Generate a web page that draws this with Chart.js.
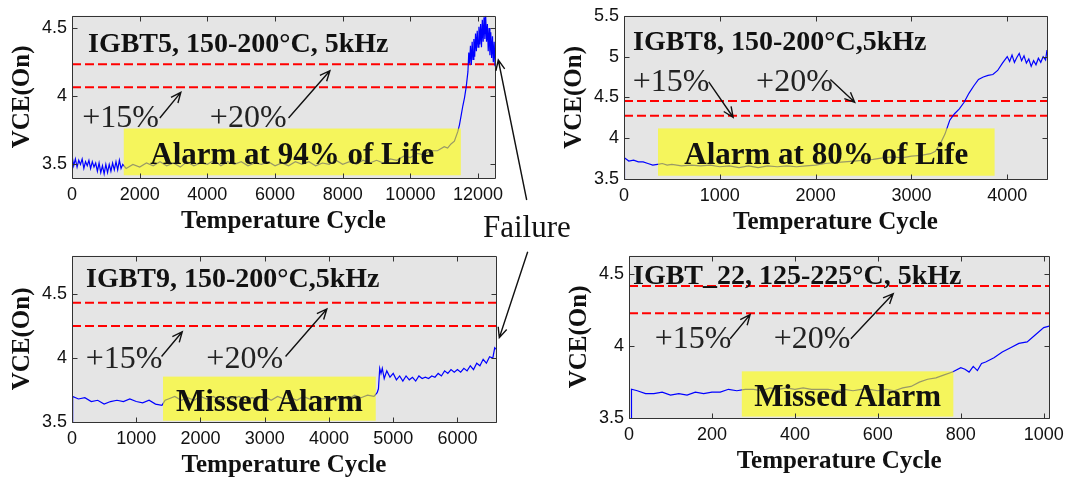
<!DOCTYPE html>
<html>
<head>
<meta charset="utf-8">
<script src="https://cdn.jsdelivr.net/npm/chart.js@4.4.1/dist/chart.umd.min.js"></script>
<style>
  body { margin: 0; background: #fff; width: 1070px; height: 480px; position: relative; overflow: hidden; }
  canvas { position: absolute; }
  #overlay { left: 0; top: 0; pointer-events: none; }
</style>
</head>
<body>
<canvas id="c1" width="535" height="240" style="left:0;top:0"></canvas>
<canvas id="c2" width="535" height="240" style="left:535px;top:0"></canvas>
<canvas id="c3" width="535" height="240" style="left:0;top:240px"></canvas>
<canvas id="c4" width="535" height="240" style="left:535px;top:240px"></canvas>
<canvas id="overlay" width="1070" height="480"></canvas>
<script>
// ---- data ----
const igbt5Cycles = [0, 10, 50, 100, 150, 200, 250, 300, 350, 400, 450, 500, 550, 600, 650, 700, 750, 800, 850, 900, 950, 1000,
  1050, 1100, 1150, 1200, 1250, 1300, 1350, 1400, 1450, 1500,
  1600, 1800, 2000, 2200, 2400, 2600, 2800, 3000, 3200, 3400, 3600, 3800, 4000, 4200, 4400, 4600, 4800, 5000,
  5200, 5400, 5600, 5800, 6000, 6200, 6400, 6600, 6800, 7000, 7200, 7400, 7600, 7800, 8000, 8200, 8400, 8600,
  8800, 9000, 9200, 9400, 9600, 9800, 10000, 10200, 10400, 10600, 10800, 11000,
  11100, 11200, 11300, 11400, 11450, 11500, 11550, 11600, 11650, 11700, 11725, 11750, 11775, 11800, 11825, 11850,
  11875, 11900, 11925, 11950, 11975, 12000, 12025, 12050, 12075, 12100, 12125, 12150, 12175, 12200, 12225, 12250,
  12275, 12300, 12325, 12350, 12375, 12400, 12425, 12450, 12475, 12500];
const igbt5Vce = [3.42, 3.55, 3.49, 3.54, 3.48, 3.53, 3.50, 3.54, 3.47, 3.52, 3.49, 3.53, 3.47, 3.52, 3.48, 3.51, 3.45, 3.51, 3.44, 3.49, 3.43, 3.50,
  3.44, 3.50, 3.45, 3.51, 3.46, 3.52, 3.46, 3.53, 3.47, 3.50,
  3.47, 3.50, 3.48, 3.51, 3.49, 3.52, 3.49, 3.51, 3.48, 3.52, 3.49, 3.51, 3.50, 3.53, 3.49, 3.52, 3.50, 3.52,
  3.49, 3.51, 3.50, 3.52, 3.49, 3.51, 3.49, 3.52, 3.50, 3.52, 3.49, 3.51, 3.50, 3.53, 3.50, 3.52, 3.50, 3.53,
  3.51, 3.53, 3.51, 3.54, 3.53, 3.56, 3.55, 3.58, 3.57, 3.60, 3.60, 3.63,
  3.62, 3.65, 3.67, 3.74, 3.79, 3.86, 3.93, 3.99, 4.07, 4.18, 4.32, 4.24, 4.37, 4.23, 4.40, 4.27,
  4.42, 4.29, 4.46, 4.33, 4.48, 4.36, 4.51, 4.38, 4.53, 4.36, 4.56, 4.40, 4.58, 4.42, 4.59, 4.40,
  4.53, 4.33, 4.50, 4.30, 4.47, 4.28, 4.44, 4.25, 4.40, 4.22, 4.35, 4.24];
const igbt5Limits = [4.065, 4.235];
const igbt5AlarmCycles = [1530, 11490];
const igbt5AlarmVce = [3.42, 3.763];
const igbt5XTicks = [0, 2000, 4000, 6000, 8000, 10000, 12000];
const igbt5YTicks = [3.5, 4, 4.5];

const igbt8Cycles = [0, 5, 50, 100, 150, 200, 250, 300, 350, 400, 450, 500, 600, 700, 800, 900, 1000, 1100, 1200, 1300,
  1400, 1500, 1600, 1700, 1800, 1900, 2000, 2100, 2200, 2300, 2400, 2500, 2600, 2700, 2800, 2900, 3000, 3100, 3200,
  3250, 3300, 3350, 3400, 3450, 3500, 3550, 3600, 3650, 3700, 3750, 3800, 3850, 3900, 3950, 4000, 4025, 4050, 4075,
  4100, 4125, 4150, 4175, 4200, 4225, 4250, 4275, 4300, 4325, 4350, 4375, 4400, 4415];
const igbt8Vce = [3.50, 3.76, 3.72, 3.73, 3.71, 3.71, 3.69, 3.67, 3.68, 3.69, 3.67, 3.68, 3.66, 3.67, 3.66, 3.67, 3.65, 3.66, 3.64, 3.66,
  3.64, 3.66, 3.65, 3.66, 3.65, 3.66, 3.67, 3.69, 3.70, 3.71, 3.72, 3.73, 3.74, 3.76, 3.77, 3.76, 3.78, 3.79, 3.81,
  3.84, 3.93, 4.05, 4.22, 4.30, 4.36, 4.44, 4.55, 4.64, 4.72, 4.75, 4.77, 4.78, 4.83, 4.92, 5.00, 4.94, 5.02, 4.93,
  4.99, 5.04, 4.95, 5.01, 4.92, 4.97, 4.88, 4.95, 4.90, 4.98, 4.93, 5.00, 4.96, 5.08];
const igbt8Limits = [4.275, 4.457];
const igbt8AlarmCycles = [355, 3868];
const igbt8AlarmVce = [3.54, 4.12];
const igbt8XTicks = [0, 1000, 2000, 3000, 4000];
const igbt8YTicks = [3.5, 4, 4.5, 5, 5.5];

const igbt9Cycles = [0, 10, 100, 200, 300, 400, 500, 600, 700, 800, 900, 1000, 1100, 1200, 1300, 1400, 1450,
  1500, 1600, 1700, 1800, 1900, 2000, 2100, 2200, 2300, 2400, 2500, 2600, 2700, 2800, 2900, 3000, 3100, 3200,
  3300, 3400, 3500, 3600, 3700, 3800, 3900, 4000, 4100, 4200, 4300, 4400, 4500, 4600, 4700,
  4750, 4770, 4790, 4810, 4830, 4860, 4900, 4950, 5000, 5050, 5100, 5150, 5200, 5250, 5300, 5350, 5400, 5450,
  5500, 5550, 5600, 5650, 5700, 5750, 5800, 5850, 5900, 5950, 6000, 6050, 6100, 6150, 6200, 6250, 6300, 6350,
  6400, 6450, 6500, 6550, 6580, 6600];
const igbt9Vce = [3.50, 3.70, 3.68, 3.69, 3.66, 3.67, 3.64, 3.66, 3.67, 3.66, 3.68, 3.66, 3.65, 3.67, 3.64, 3.63, 3.67,
  3.68, 3.70, 3.67, 3.69, 3.67, 3.70, 3.68, 3.70, 3.67, 3.69, 3.68, 3.70, 3.67, 3.69, 3.68, 3.70, 3.67, 3.70,
  3.68, 3.69, 3.67, 3.70, 3.68, 3.70, 3.68, 3.69, 3.67, 3.70, 3.68, 3.71, 3.69, 3.71, 3.70,
  3.73, 3.76, 3.92, 3.88, 3.92, 3.84, 3.90, 3.85, 3.88, 3.83, 3.86, 3.82, 3.86, 3.83, 3.85, 3.82, 3.86, 3.84,
  3.85, 3.84, 3.86, 3.85, 3.88, 3.86, 3.90, 3.88, 3.91, 3.89, 3.91, 3.89, 3.92, 3.90, 3.94, 3.91, 3.96, 3.94,
  3.99, 3.96, 4.01, 4.00, 4.08, 4.07];
const igbt9Limits = [4.25, 4.433];
const igbt9AlarmCycles = [1417, 4728];
const igbt9AlarmVce = [3.51, 3.855];
const igbt9XTicks = [0, 1000, 2000, 3000, 4000, 5000, 6000];
const igbt9YTicks = [3.5, 4, 4.5];

const igbt22Cycles = [5, 6, 20, 40, 60, 80, 100, 120, 140, 160, 180, 200, 220, 240, 260, 280, 300, 320, 340, 360,
  380, 400, 420, 440, 460, 480, 500, 520, 540, 560, 580, 600, 620, 640, 660, 680, 700, 720, 740, 760, 780, 800,
  810, 820, 830, 840, 850, 860, 880, 900, 920, 940, 960, 980, 1000, 1013];
const igbt22Vce = [3.50, 3.70, 3.69, 3.67, 3.67, 3.68, 3.66, 3.67, 3.66, 3.68, 3.67, 3.68, 3.68, 3.70, 3.69, 3.70, 3.70, 3.69, 3.71, 3.70,
  3.71, 3.70, 3.71, 3.70, 3.70, 3.70, 3.69, 3.70, 3.69, 3.70, 3.70, 3.69, 3.70, 3.69, 3.71, 3.72, 3.75, 3.77, 3.78, 3.80, 3.82, 3.85,
  3.84, 3.82, 3.86, 3.83, 3.88, 3.89, 3.92, 3.96, 3.99, 4.02, 4.03, 4.08, 4.13, 4.14];
const igbt22Limits = [4.23, 4.42];
const igbt22AlarmCycles = [272, 782];
const igbt22AlarmVce = [3.51, 3.825];
const igbt22XTicks = [0, 200, 400, 600, 800, 1000];
const igbt22YTicks = [3.5, 4, 4.5];

// ---- layout (canvas-local chart areas, axis limits, annotation anchors) ----
const SERIF = '"Liberation Serif", "Times New Roman", serif';
const SANS = '"Liberation Sans", Arial, sans-serif';

const panels = [
  { id: 'c1', cycles: igbt5Cycles, vce: igbt5Vce, limits: igbt5Limits, alarmX: igbt5AlarmCycles, alarmY: igbt5AlarmVce,
    xTicks: igbt5XTicks, yTicks: igbt5YTicks, xMax: 12500, yMin: 3.4, yMax: 4.59,
    area: { left: 72, top: 9, right: 495, bottom: 178 },
    title: 'IGBT5, 150-200°C, 5kHz', titleDx: 16, titleDy: 36, alarmText: 'Alarm at 94% of Life',
    lab15: [305, 3.771], arr15: [2595, 3.84, 3216, 4.028], lab20: [4074, 3.771], arr20: [6399, 3.84, 7621, 4.187] },
  { id: 'c2', cycles: igbt8Cycles, vce: igbt8Vce, limits: igbt8Limits, alarmX: igbt8AlarmCycles, alarmY: igbt8AlarmVce,
    xTicks: igbt8XTicks, yTicks: igbt8YTicks, xMax: 4415, yMin: 3.5, yMax: 5.5,
    area: { left: 89, top: 10, right: 512, bottom: 179 },
    title: 'IGBT8, 150-200°C,5kHz', titleDx: 9, titleDy: 34, alarmText: 'Alarm at 80% of Life',
    lab15: [91, 4.577], arr15: [884, 4.69, 1139, 4.257], lab20: [1379, 4.577], arr20: [2154, 4.72, 2408, 4.44] },
  { id: 'c3', cycles: igbt9Cycles, vce: igbt9Vce, limits: igbt9Limits, alarmX: igbt9AlarmCycles, alarmY: igbt9AlarmVce,
    xTicks: igbt9XTicks, yTicks: igbt9YTicks, xMax: 6600, yMin: 3.5, yMax: 4.8,
    area: { left: 72, top: 14, right: 496, bottom: 182 },
    title: 'IGBT9, 150-200°C,5kHz', titleDx: 14, titleDy: 31, alarmText: 'Missed Alarm',
    lab15: [215, 3.92], arr15: [1394, 4.012, 1716, 4.206], lab20: [2091, 3.92], arr20: [3324, 4.012, 3967, 4.384] },
  { id: 'c4', cycles: igbt22Cycles, vce: igbt22Vce, limits: igbt22Limits, alarmX: igbt22AlarmCycles, alarmY: igbt22AlarmVce,
    xTicks: igbt22XTicks, yTicks: igbt22YTicks, xMax: 1013, yMin: 3.5, yMax: 4.63,
    area: { left: 94, top: 7, right: 517, bottom: 178 },
    title: 'IGBT_22, 125-225°C, 5kHz', titleDx: 4, titleDy: 28, alarmText: 'Missed Alarm',
    lab15: [62, 3.985], arr15: [244, 4.052, 292, 4.22], lab20: [349, 3.985], arr20: [535, 4.052, 637, 4.366] }
];

function drawArrow(ctx, x1, y1, x2, y2) {
  const ang = Math.atan2(y2 - y1, x2 - x1), L = 11, w = 0.42;
  ctx.beginPath();
  ctx.moveTo(x1, y1);
  ctx.lineTo(x2, y2);
  ctx.moveTo(x2 - L * Math.cos(ang - w), y2 - L * Math.sin(ang - w));
  ctx.lineTo(x2, y2);
  ctx.lineTo(x2 - L * Math.cos(ang + w), y2 - L * Math.sin(ang + w));
  ctx.stroke();
}

function makeDecor(p) {
  return {
    id: 'decor',
    beforeDraw(chart) {
      const { ctx, chartArea: a } = chart;
      ctx.save();
      ctx.fillStyle = '#e5e5e5';
      ctx.fillRect(a.left, a.top, a.right - a.left, a.bottom - a.top);
      ctx.restore();
    },
    afterDatasetsDraw(chart) {
      const { ctx, chartArea: a } = chart;
      const xs = chart.scales.x, ys = chart.scales.y;
      const px = v => xs.getPixelForValue(v), py = v => ys.getPixelForValue(v);
      ctx.save();

      // semi-transparent yellow alarm window over the trace
      const bx0 = px(p.alarmX[0]), bx1 = px(p.alarmX[1]);
      const by0 = py(p.alarmY[1]), by1 = py(p.alarmY[0]);
      ctx.fillStyle = 'rgba(255,255,0,0.6)';
      ctx.fillRect(bx0, by0, bx1 - bx0, by1 - by0);
      ctx.fillStyle = '#111';
      ctx.font = 'bold 31px ' + SERIF;
      ctx.textAlign = 'center';
      ctx.textBaseline = 'alphabetic';
      ctx.fillText(p.alarmText, (bx0 + bx1) / 2, (by0 + by1) / 2 + 12);

      // panel title
      ctx.textAlign = 'left';
      ctx.font = 'bold 28px ' + SERIF;
      ctx.fillText(p.title, a.left + p.titleDx, a.top + p.titleDy);

      // +15% / +20% notes with arrows
      ctx.font = '32px ' + SERIF;
      ctx.fillStyle = '#222';
      ctx.fillText('+15%', px(p.lab15[0]), py(p.lab15[1]));
      ctx.fillText('+20%', px(p.lab20[0]), py(p.lab20[1]));
      ctx.strokeStyle = '#111';
      ctx.lineWidth = 1.4;
      drawArrow(ctx, px(p.arr15[0]), py(p.arr15[1]), px(p.arr15[2]), py(p.arr15[3]));
      drawArrow(ctx, px(p.arr20[0]), py(p.arr20[1]), px(p.arr20[2]), py(p.arr20[3]));

      // box + inward ticks
      ctx.strokeStyle = '#333';
      ctx.lineWidth = 1;
      const L = Math.round(a.left) + 0.5, R = Math.round(a.right) + 0.5;
      const T = Math.round(a.top) + 0.5, B = Math.round(a.bottom) + 0.5;
      ctx.beginPath();
      ctx.rect(L, T, R - L, B - T);
      p.xTicks.forEach(v => {
        const x = Math.round(px(v)) + 0.5;
        ctx.moveTo(x, B); ctx.lineTo(x, B - 5);
        ctx.moveTo(x, T); ctx.lineTo(x, T + 5);
      });
      p.yTicks.forEach(v => {
        const y = Math.round(py(v)) + 0.5;
        ctx.moveTo(L, y); ctx.lineTo(L + 5, y);
        ctx.moveTo(R, y); ctx.lineTo(R - 5, y);
      });
      ctx.stroke();

      // axis titles
      ctx.fillStyle = '#111';
      ctx.font = 'bold 25px ' + SERIF;
      ctx.textAlign = 'center';
      ctx.fillText('Temperature Cycle', (a.left + a.right) / 2, a.bottom + 50);
      ctx.translate(a.left - 43, (a.top + a.bottom) / 2);
      ctx.rotate(-Math.PI / 2);
      ctx.fillText('VCE(On)', 0, 0);
      ctx.restore();
    }
  };
}

panels.forEach(p => {
  const canvas = document.getElementById(p.id);
  const W = canvas.width, H = canvas.height;
  const trace = p.cycles.map((c, i) => ({ x: c, y: p.vce[i] }));
  const limitSets = p.limits.map(v => ({
    data: [{ x: 0, y: v }, { x: p.xMax, y: v }],
    borderColor: '#ff0000', borderWidth: 2, borderDash: [9, 4], pointRadius: 0
  }));
  const tickFont = { family: SANS, size: 18 };
  new Chart(canvas, {
    type: 'line',
    data: {
      datasets: [
        { data: trace, borderColor: '#0000ff', borderWidth: 1.2, pointRadius: 0, tension: 0 },
        ...limitSets
      ]
    },
    options: {
      responsive: false,
      animation: false,
      devicePixelRatio: 1,
      layout: { padding: { left: 0, top: p.area.top, right: W - p.area.right, bottom: 0 } },
      plugins: { legend: { display: false }, tooltip: { enabled: false } },
      scales: {
        x: {
          type: 'linear', min: 0, max: p.xMax,
          afterBuildTicks: s => { s.ticks = p.xTicks.map(v => ({ value: v })); },
          afterFit: s => { s.height = H - p.area.bottom; },
          grid: { display: false, drawTicks: false },
          border: { display: false },
          ticks: { font: tickFont, color: '#111', padding: 6, maxRotation: 0, autoSkip: false, callback: v => String(v) }
        },
        y: {
          type: 'linear', min: p.yMin, max: p.yMax,
          afterBuildTicks: s => { s.ticks = p.yTicks.map(v => ({ value: v })); },
          afterFit: s => { s.width = p.area.left; },
          grid: { display: false, drawTicks: false },
          border: { display: false },
          ticks: { font: tickFont, color: '#111', padding: 5, autoSkip: false, callback: v => String(v) }
        }
      }
    },
    plugins: [makeDecor(p)]
  });
});

// "Failure" callout spanning the two left panels
const ov = document.getElementById('overlay').getContext('2d');
ov.fillStyle = '#111';
ov.font = '31px ' + SERIF;
ov.fillText('Failure', 483, 237);
ov.strokeStyle = '#111';
ov.lineWidth = 1.4;
drawArrow(ov, 526.7, 200, 498.3, 60);
drawArrow(ov, 527.7, 251.7, 499.3, 337.7);
</script>
</body>
</html>
